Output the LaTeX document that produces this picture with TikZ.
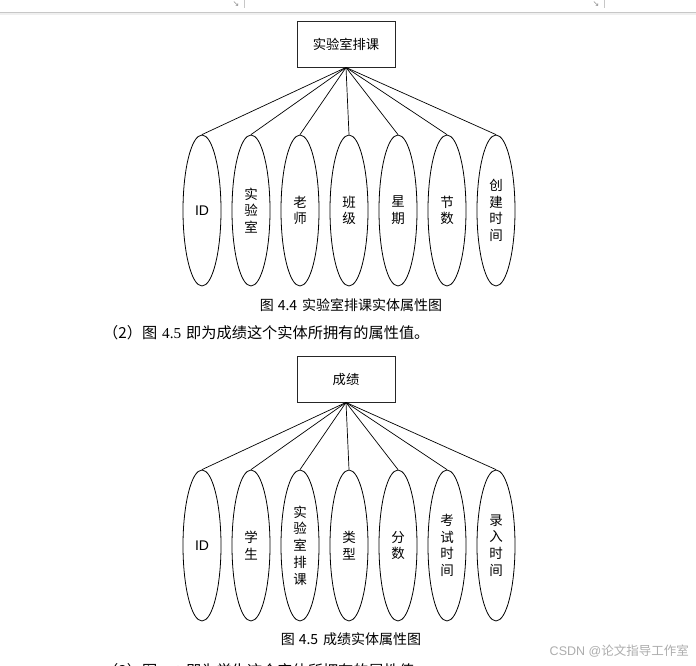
\documentclass[tikz,border=0pt]{standalone}
\usepackage{fontspec}
\setmainfont{Liberation Sans}
\newfontfamily\cjk{Noto Sans CJK SC}
\newfontfamily\lat{Liberation Sans}
\newfontfamily\tnr{Liberation Serif}
\newfontfamily\djv{DejaVu Sans}
\usetikzlibrary{shapes.geometric}
\begin{document}
\begin{tikzpicture}[x=1pt,y=-1pt,
  entity/.style={draw=black!85, line width=0.9pt, minimum width=98pt, minimum height=46pt, inner sep=0pt, font=\cjk\fontsize{13.3}{16}\selectfont},
  attr/.style={draw=black, line width=0.8pt, ellipse, minimum width=38pt, minimum height=151pt, inner sep=0pt, align=center, font=\cjk\fontsize{13.5}{16.7}\selectfont},
  link/.style={draw=black, line width=0.7pt},
  captxt/.style={inner sep=0pt, font=\cjk\fontsize{14}{16}\selectfont},
  paratxt/.style={anchor=west, inner sep=0pt, font=\cjk\fontsize{15.2}{18}\selectfont},
  uimark/.style={inner sep=0pt, text=black!45, font=\djv\fontsize{8}{8}\selectfont},
  uiline/.style={draw=black!22, line width=0.8pt}
]
\useasboundingbox (0,0) rectangle (696,666);
\clip (0,0) rectangle (696,666);
\fill[white] (0,0) rectangle (696,666);

% top window decoration
\fill[black!6] (0,12.5) rectangle (696,15.5);
\draw[uiline] (0,12.5) -- (696,12.5);
\coordinate (t1a) at (244,0); \coordinate (t1b) at (244,8);
\coordinate (t2a) at (604,0); \coordinate (t2b) at (604,8);
\draw[uiline] (t1a) -- (t1b);
\draw[uiline] (t2a) -- (t2b);
\node[uimark] (m1) at (236,4.5) {↘};
\node[uimark] (m2) at (596,4.5) {↘};

% ---------- diagram 1 ----------
\node[entity] (E1) at (346,44) {实验室排课};
\node[attr] (a1) at (202,210.5) {\lat\fontsize{14}{16}\selectfont ID};
\node[attr] (a2) at (251,210.5) {实\\验\\室};
\node[attr] (a3) at (300,210.5) {老\\师};
\node[attr] (a4) at (349,210.5) {班\\级};
\node[attr] (a5) at (398,210.5) {星\\期};
\node[attr] (a6) at (447,210.5) {节\\数};
\node[attr] (a7) at (496,210.5) {创\\建\\时\\间};
\foreach \i in {1,...,7} \draw[link] (E1.south) -- (a\i.north);
\node[captxt] (c1) at (351,305) {图\hspace{4pt}4.4\hspace{5pt}实验室排课实体属性图};

\node[paratxt] (p1) at (103,333) {（2）图\hspace{5pt}{\tnr 4.5}\hspace{5pt}即为成绩这个实体所拥有的属性值。};

% ---------- diagram 2 ----------
\node[entity] (E2) at (346,379) {成绩};
\node[attr] (b1) at (202,545.5) {\lat\fontsize{14}{16}\selectfont ID};
\node[attr] (b2) at (251,545.5) {学\\生};
\node[attr] (b3) at (300,545.5) {实\\验\\室\\排\\课};
\node[attr] (b4) at (349,545.5) {类\\型};
\node[attr] (b5) at (398,545.5) {分\\数};
\node[attr] (b6) at (447,545.5) {考\\试\\时\\间};
\node[attr] (b7) at (496,545.5) {录\\入\\时\\间};
\foreach \i in {1,...,7} \draw[link] (E2.south) -- (b\i.north);
\node[captxt] (c2) at (351,639) {图\hspace{4pt}4.5\hspace{5pt}成绩实体属性图};

\node[paratxt] (p2) at (103,671) {（3）图\hspace{5pt}{\tnr 4.6}\hspace{5pt}即为学生这个实体所拥有的属性值。};

\node[anchor=east, inner sep=0pt, text=black!32, font=\cjk\fontsize{12.5}{14}\selectfont] (wm) at (689,651.5) {{\lat CSDN @}论文指导工作室};
\end{tikzpicture}
\end{document}
